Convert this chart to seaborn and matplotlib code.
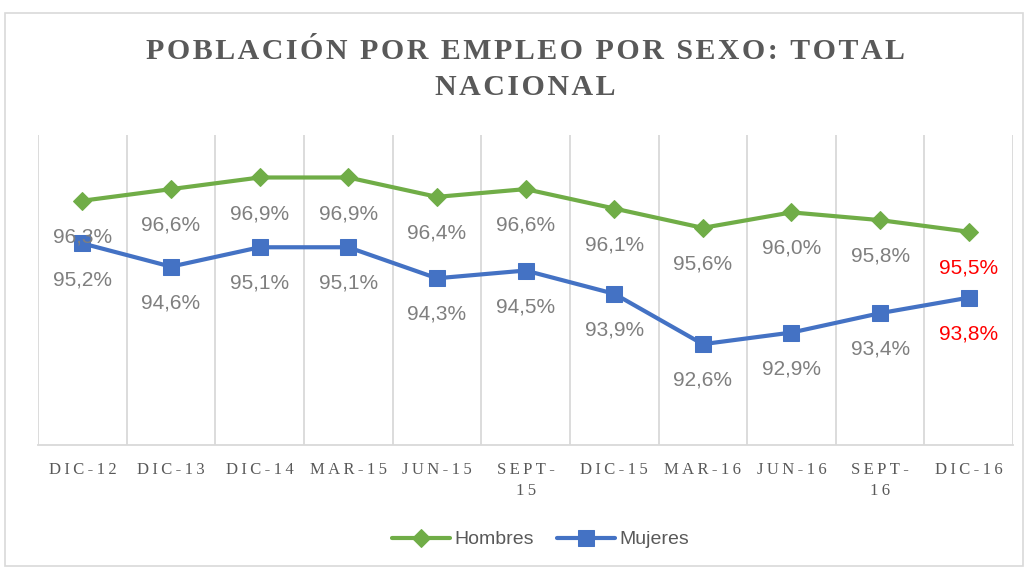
import pandas as pd
import matplotlib.pyplot as plt
import matplotlib.patches as mpatches
import seaborn as sns

# data
periods = ["DIC-12", "DIC-13", "DIC-14", "MAR-15", "JUN-15", "SEPT-\n15",
           "DIC-15", "MAR-16", "JUN-16", "SEPT-\n16", "DIC-16"]
hombres = [96.3, 96.6, 96.9, 96.9, 96.4, 96.6, 96.1, 95.6, 96.0, 95.8, 95.5]
mujeres = [95.2, 94.6, 95.1, 95.1, 94.3, 94.5, 93.9, 92.6, 92.9, 93.4, 93.8]

GREEN = "#70AD47"
BLUE = "#4472C4"
TXT = "#595959"
LBL = "#7F7F7F"
SERIF = ["Liberation Serif", "DejaVu Serif"]
SANS = ["Liberation Sans", "DejaVu Sans"]


def spaced(s, sep="\u200a"):
    """Fake letter spacing by putting small spaces between characters."""
    return "\n".join(sep.join(line) for line in s.split("\n"))


sns.set_style("white")
plt.rcParams["font.family"] = SANS

idx = list(range(len(periods)))
df = pd.DataFrame({"idx": idx, "Hombres": hombres, "Mujeres": mujeres})

fig = plt.figure(figsize=(10.28, 5.69), dpi=100)
ax = fig.add_axes([0.037, 0.218, 0.9485, 0.545])

sns.lineplot(data=df, x="idx", y="Hombres", ax=ax, color=GREEN, linewidth=3,
             marker="D", markersize=9, markeredgecolor=GREEN, label="Hombres")
sns.lineplot(data=df, x="idx", y="Mujeres", ax=ax, color=BLUE, linewidth=3,
             marker="s", markersize=12, markeredgecolor=BLUE, label="Mujeres")

# data labels below each point, last ones highlighted in red
n = len(periods)
for series in (hombres, mujeres):
    for i, v in enumerate(series):
        col = "#FF0000" if i == n - 1 else LBL
        ax.annotate(f"{v:.1f}%".replace(".", ","), (i, v), xytext=(0, -26),
                    textcoords="offset points", ha="center", va="center",
                    fontsize=15, color=col, family=SANS)

ax.set_xlim(-0.5, n - 0.5)
ax.set_ylim(90, 98)
ax.set_yticks([])
ax.set_xticks(idx)
ax.set_xticklabels([spaced(p, "\u2009") for p in periods], family=SERIF, fontsize=12,
                   color=TXT, linespacing=1.45)
ax.tick_params(axis="x", length=0, pad=12)
ax.set_xlabel("")
ax.set_ylabel("")

# vertical category separators
for b in range(n + 1):
    ax.axvline(b - 0.5, color="#D9D9D9", linewidth=1.3, zorder=0)
for s in ["top", "left", "right"]:
    ax.spines[s].set_visible(False)
ax.spines["bottom"].set_color("#D9D9D9")
ax.spines["bottom"].set_linewidth(1.3)

ax.set_title(spaced("POBLACIÓN POR EMPLEO POR SEXO: TOTAL\nNACIONAL"),
             family=SERIF, fontsize=21.5, fontweight="bold", color=TXT,
             linespacing=1.4, pad=29)

leg = ax.legend(loc="center", bbox_to_anchor=(0.515, -0.305), ncol=2, frameon=False,
                fontsize=14, handlelength=3.0, handletextpad=0.2, columnspacing=1.2)
for t in leg.get_texts():
    t.set_color(TXT)

# light chart border
fig.patches.append(mpatches.Rectangle((0.005, 0.005), 0.99, 0.972, transform=fig.transFigure,
                                      fill=False, edgecolor="#D9D9D9", linewidth=1.2))

fig.savefig("out.png", dpi=100)
